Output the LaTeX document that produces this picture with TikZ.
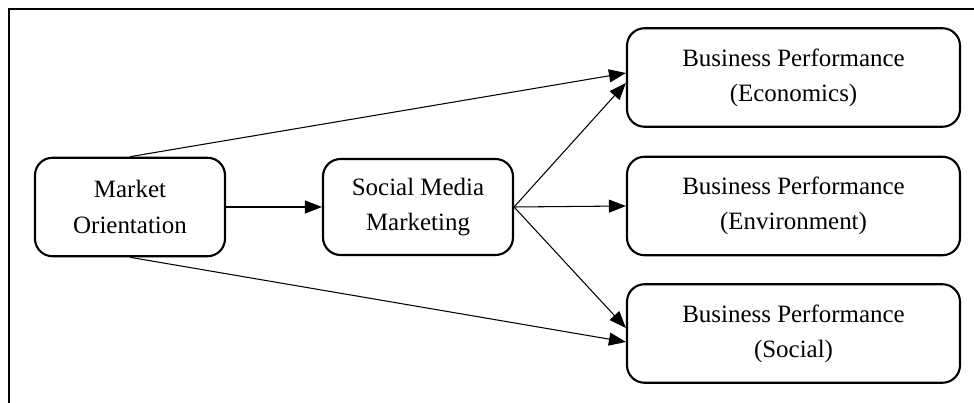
\documentclass[tikz,border=0pt]{standalone}
\usepackage{fontspec}
\setmainfont{Liberation Serif}
\usetikzlibrary{arrows.meta}

\begin{document}
\begin{tikzpicture}[
        box/.style={draw, line width=1.2pt, rounded corners=0.35cm, align=center,
                minimum height=1.97cm, font=\fontsize{14.2}{20}\selectfont},
        smallbox/.style={box, minimum width=3.8cm},
        bigbox/.style={box, minimum width=6.66cm},
        arr/.style={line width=0.6pt, -{Triangle[length=0.34cm,width=0.26cm]}}
    ]
        \useasboundingbox (0,0) rectangle (19.48,8.06);
        % frame
        \draw[line width=1.1pt] (0.18,0) -- (0.18,7.88) -- (19.48,7.88);

        \node[smallbox] (market) at (2.6,3.92) {Market\\Orientation};
        \node[smallbox, minimum height=1.92cm] (smm) at (8.36,3.92) {Social Media\\Marketing};
        \foreach \y/\nm/\txt in {6.51/econ/Economics, 3.94/env/Environment, 1.39/soc/Social}
        {
                \node[bigbox] (\nm) at (15.87,\y) {Business Performance\\(\txt)};
        }

        \draw[arr] (market.east) -- (smm.west);
        \draw[arr] (market.north) -- ([yshift=0.09cm]econ.west);
        \draw[arr] (market.south) -- ([yshift=-0.17cm]soc.west);
        \draw[arr] (smm.east) -- ([yshift=-0.11cm]econ.west);
        \draw[arr] (smm.east) -- (env.west);
        \draw[arr] (smm.east) -- ([yshift=0.11cm]soc.west);
\end{tikzpicture}
\end{document}
